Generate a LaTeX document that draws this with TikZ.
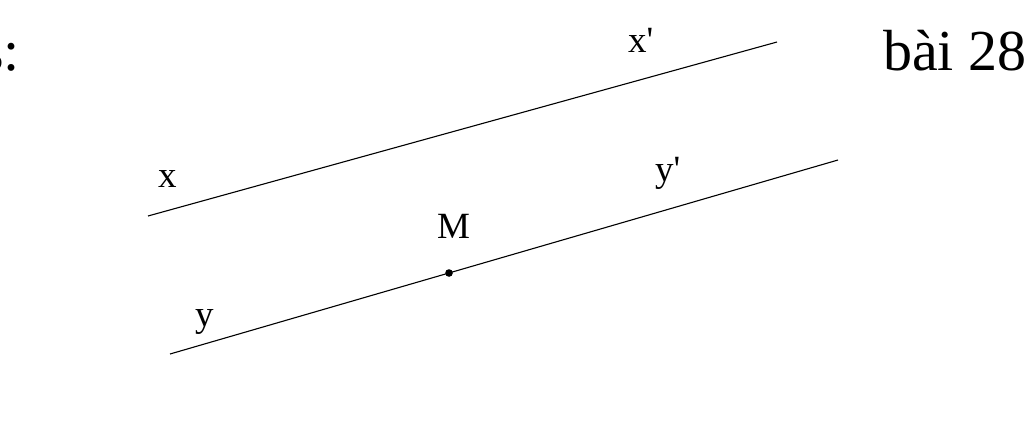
\documentclass[tikz,border=0pt]{standalone}
\usepackage{fontspec}
\setmainfont{Liberation Serif}
\newfontfamily\lblfont{Liberation Serif}
\begin{document}
\begin{tikzpicture}[x=1pt,y=-1pt,
  lbl/.style={font=\lblfont\fontsize{37}{40}\selectfont, inner sep=0pt, anchor=base west},
  big/.style={font=\fontsize{58}{62}\selectfont, inner sep=0pt},
  ln/.style={line width=1.1pt}]
\useasboundingbox (0,0) rectangle (1024,437);
% lines
\coordinate (x) at (148,216);
\coordinate (xp) at (777,42);
\coordinate (y) at (170,354);
\coordinate (yp) at (838,160);
\draw[ln] (x) -- (xp);
\draw[ln] (y) -- (yp);
\fill (449,273) circle (3.8pt) coordinate (M);
% labels
\node[lbl] (lx) at (158,187) {x};
\node[lbl] (lxp) at (628,52) {x'};
\node[lbl] (lyp) at (655,181) {y'};
\node[lbl] (lM) at (437,238) {M};
\node[lbl] (ly) at (195,326) {y};
% texts
\node[big, anchor=base west] (bai) at (883,70) {bài 28};
\node[big, anchor=base east] (s) at (20,70) {s:};
\end{tikzpicture}
\end{document}
